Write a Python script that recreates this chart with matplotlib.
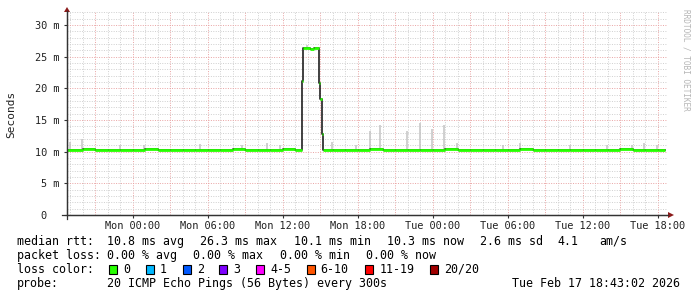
import numpy as np
import matplotlib
matplotlib.use("Agg")
import matplotlib.pyplot as plt
from matplotlib.patches import Rectangle, Polygon
from matplotlib.lines import Line2D

W, H = 697, 297
MONO = "DejaVu Sans Mono"

# median rtt in ms, as steps starting at med_t (hours since Mon 00:00)
med_t = [-5.25, -4, -3, -2, -1, 0, 1, 2, 3, 4, 5, 6, 7, 8, 9, 10, 11, 12, 13,
         13.55, 13.63, 14.2, 14.5, 14.92, 15.0, 15.17, 15.25,
         16, 17, 18, 19, 20, 21, 22, 23, 24, 25, 26, 27, 28, 29, 30, 31, 32,
         33, 34, 35, 36, 37, 38, 39, 40, 41, 42]
med_v = [10.3, 10.35, 10.3, 10.25, 10.3, 10.3, 10.35, 10.3, 10.25, 10.3, 10.3,
         10.25, 10.3, 10.35, 10.3, 10.25, 10.3, 10.35, 10.3,
         21.2, 26.3, 26.2, 26.3, 20.8, 18.3, 12.8, 10.3,
         10.25, 10.3, 10.3, 10.35, 10.3, 10.3, 10.25, 10.3, 10.3, 10.35, 10.3,
         10.3, 10.25, 10.3, 10.3, 10.35, 10.3, 10.25, 10.3, 10.3, 10.3, 10.25,
         10.3, 10.35, 10.3, 10.25, 10.3]
T_END = 42.6

# smoke spikes: time, max rtt (ms)
smoke_t = [-5.04, -4.05, -1.04, 0.94, 5.42, 8.75, 10.75, 11.82, 13.95, 15.95,
           17.9, 18.96, 19.82, 21.95, 22.98, 23.92, 24.94, 25.95, 29.63, 30.96,
           35.02, 37.95, 39.95, 40.94, 41.95]
smoke_top = [11.6, 12.0, 11.0, 11.0, 11.2, 11.0, 11.4, 11.1, 26.9, 11.6,
             11.1, 13.2, 14.2, 13.3, 14.6, 13.6, 14.2, 11.3, 11.1, 11.4,
             11.0, 11.1, 11.0, 11.3, 11.0]

rtt_stats = ["10.8 ms avg", "26.3 ms max", "10.1 ms min", "10.3 ms now",
             "2.6 ms sd", "4.1", "am/s"]
loss_stats = ["0.00 % avg", "0.00 % max", "0.00 % min", "0.00 % now"]
loss_names = ["0", "1", "2", "3", "4-5", "6-10", "11-19", "20/20"]
loss_colors = ["#26ff00", "#00b8ff", "#0059ff", "#7e00ff", "#ff00ff",
               "#ff5500", "#ff0000", "#a00000"]
probe_txt = "20 ICMP Echo Pings (56 Bytes) every 300s"
stamp_txt = "Tue Feb 17 18:43:02 2026"


def fx(x):
    return x / W


def fy(y):
    return 1 - y / H


fig = plt.figure(figsize=(W / 100, H / 100), dpi=100)
ax = fig.add_axes([fx(67), fy(215), 600 / W, (215 - 12.3) / H])
ax.set_xlim(-5.25, 42.75)
ax.set_ylim(0, 32)

# grid
dots = (0, (1, 1.5))
for t in range(-5, 43):
    ax.axvline(t, color="#e9a3a3" if t % 3 == 0 else "#cfcfcf", lw=0.7, ls=dots, zorder=0)
for v in range(1, 33):
    ax.axhline(v, color="#e9a3a3" if v % 5 == 0 else "#cfcfcf", lw=0.7, ls=dots, zorder=0)

# smoke
idx = np.searchsorted(med_t, smoke_t, side="right") - 1
base = np.array(med_v)[idx]
ax.vlines(smoke_t, base, smoke_top, color="#c4c4c4", lw=1.1, zorder=1)

# median: black step line + loss coloured bars
ends = med_t[1:] + [T_END]
ax.step(med_t + [T_END], med_v + [med_v[-1]], where="post", color="#202020", lw=1.2, zorder=2)
ax.hlines(med_v, med_t, ends, color=loss_colors[0], lw=2.0, zorder=3)

ticks6 = list(range(0, 43, 6))
ax.set_xticks(ticks6)
days = {0: "Mon", 1: "Tue"}
ax.set_xticklabels([f"{days[t // 24]} {t % 24:02d}:00" for t in ticks6])
ax.set_yticks(range(0, 31, 5))
ax.set_yticklabels(["0  "] + [f"{v} m" for v in range(5, 31, 5)])
ax.tick_params(axis="both", length=2, width=0.8, color="#333333", labelsize=7.4,
               labelcolor="#222222")
ax.tick_params(axis="x", pad=2.5)
ax.tick_params(axis="y", pad=3.5)
for lab in ax.get_xticklabels() + ax.get_yticklabels():
    lab.set_family(MONO)
for s in ("top", "right"):
    ax.spines[s].set_visible(False)
for s in ("left", "bottom"):
    ax.spines[s].set_color("#333333")
    ax.spines[s].set_linewidth(0.9)
    ax.spines[s].set_zorder(4)

# axis arrows
fig.add_artist(Line2D([fx(62), fx(668)], [fy(215), fy(215)], color="#333333", lw=0.9))
fig.add_artist(Line2D([fx(67), fx(67)], [fy(219), fy(11)], color="#333333", lw=0.9))
fig.add_artist(Polygon([(fx(64), fy(12)), (fx(70), fy(12)), (fx(67), fy(7))],
                       closed=True, color="#8b1a1a", lw=0))
fig.add_artist(Polygon([(fx(668), fy(212)), (fx(668), fy(218)), (fx(674), fy(215))],
                       closed=True, color="#8b1a1a", lw=0))

fig.text(fx(11), fy(114), "Seconds", rotation=90, family=MONO, fontsize=8,
         ha="center", va="center", color="#222222")
fig.text(fx(686), fy(60), "RRDTOOL / TOBI OETIKER", rotation=270, family=MONO,
         fontsize=5.6, ha="center", va="center", color="#b5b5b5")

# legend
fs = 8.4
row = [241.3, 255.3, 269.3, 283.6]
fig.text(fx(16.7), fy(row[0]), "median rtt:", family=MONO, fontsize=fs, va="center")
for x, s in zip([107.3, 200.5, 293.7, 386.9, 480.1, 557, 599], rtt_stats):
    fig.text(fx(x), fy(row[0]), s, family=MONO, fontsize=fs, va="center")
fig.text(fx(16.7), fy(row[1]), "packet loss:", family=MONO, fontsize=fs, va="center")
for x, s in zip([107.3, 193.5, 279.7, 365.9], loss_stats):
    fig.text(fx(x), fy(row[1]), s, family=MONO, fontsize=fs, va="center")
fig.text(fx(16.7), fy(row[2]), "loss color:", family=MONO, fontsize=fs, va="center")
box_x = [109, 146, 182.7, 219.3, 256, 306.7, 365.3, 430.3]
for x, name, c in zip(box_x, loss_names, loss_colors):
    fig.add_artist(Rectangle((fx(x), fy(273.5)), 8 / W, 9 / H, facecolor=c,
                             edgecolor="black", lw=0.8))
    fig.text(fx(x + 14), fy(row[2]), name, family=MONO, fontsize=fs, va="center")
fig.text(fx(16.7), fy(row[3]), "probe:", family=MONO, fontsize=fs, va="center")
fig.text(fx(106.7), fy(row[3]), probe_txt, family=MONO, fontsize=fs, va="center")
fig.text(fx(511.7), fy(row[3]), stamp_txt, family=MONO, fontsize=fs, va="center")

fig.savefig("out.png", dpi=100, facecolor="white")
